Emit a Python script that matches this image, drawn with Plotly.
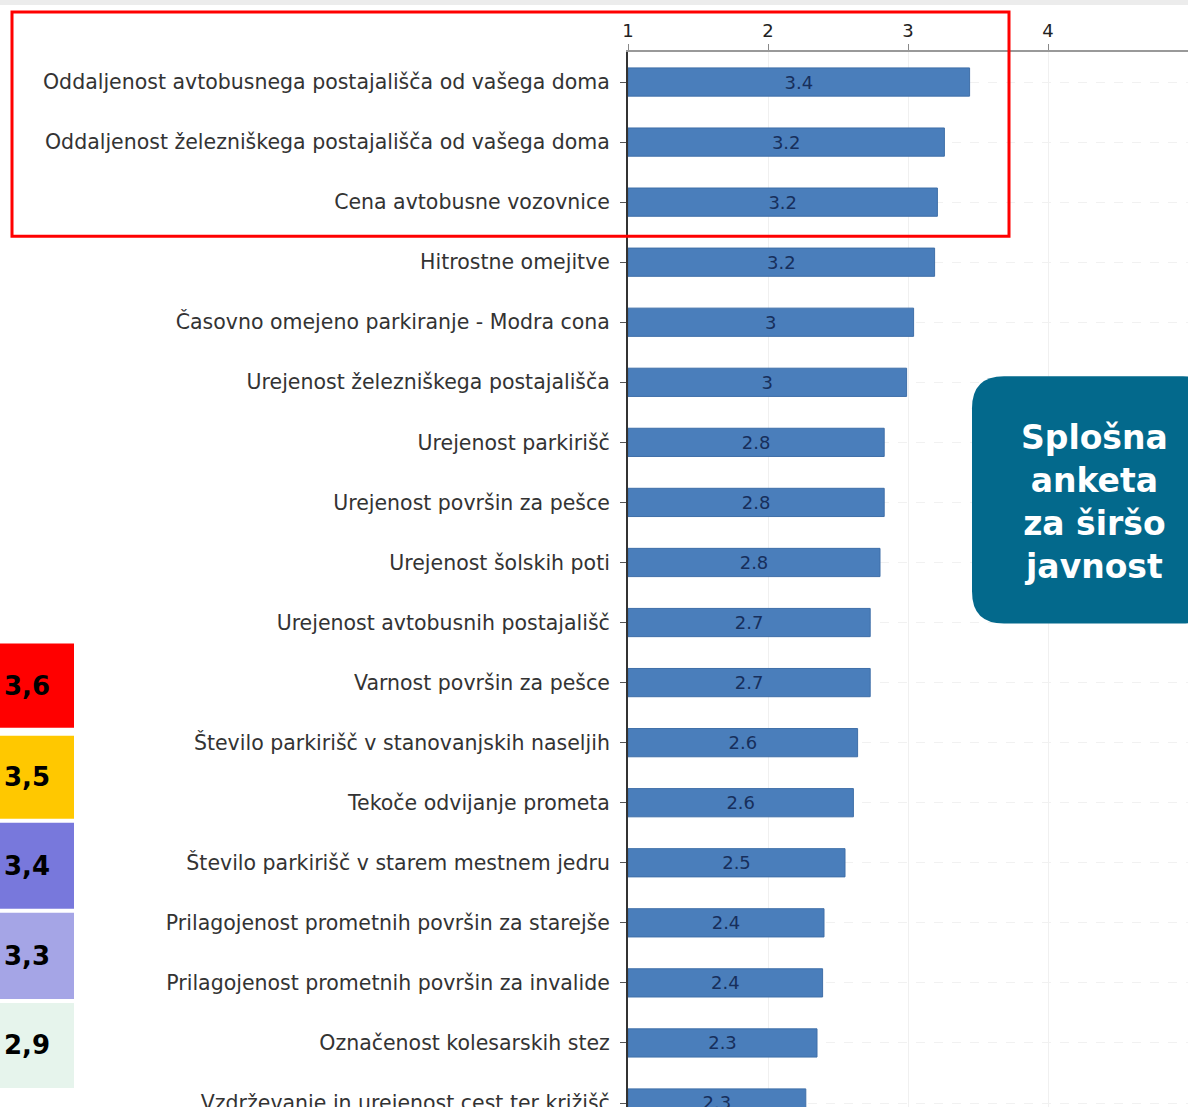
import plotly.graph_objects as go

categories = [
    "Oddaljenost avtobusnega postajališča od vašega doma",
    "Oddaljenost železniškega postajališča od vašega doma",
    "Cena avtobusne vozovnice",
    "Hitrostne omejitve",
    "Časovno omejeno parkiranje - Modra cona",
    "Urejenost železniškega postajališča",
    "Urejenost parkirišč",
    "Urejenost površin za pešce",
    "Urejenost šolskih poti",
    "Urejenost avtobusnih postajališč",
    "Varnost površin za pešce",
    "Število parkirišč v stanovanjskih naseljih",
    "Tekoče odvijanje prometa",
    "Število parkirišč v starem mestnem jedru",
    "Prilagojenost prometnih površin za starejše",
    "Prilagojenost prometnih površin za invalide",
    "Označenost kolesarskih stez",
    "Vzdrževanje in urejenost cest ter križišč",
]
values = [3.44, 3.26, 3.21, 3.19, 3.04, 2.99, 2.83, 2.83, 2.80, 2.73, 2.73,
          2.64, 2.61, 2.55, 2.40, 2.39, 2.35, 2.27]
value_labels = ["3.4", "3.2", "3.2", "3.2", "3", "3", "2.8", "2.8", "2.8", "2.7",
                "2.7", "2.6", "2.6", "2.5", "2.4", "2.4", "2.3", "2.3"]
scale_ticks = [1, 2, 3, 4, 5]
scale_min = 1

legend_values = ["3,6", "3,5", "3,4", "3,3", "2,9"]
legend_colors = ["#ff0000", "#ffc800", "#7878dc", "#a5a5e6", "#e6f4ec"]
legend_boxes_px = [(643, 727), (735, 818), (822, 908), (912, 998), (1002, 1087)]

REF_H = 1107
W_FIG, H_FIG = 1188, 1115
SY = H_FIG / REF_H            # reference y pixel -> figure y pixel
L, T = 628, 52 * SY
PW, PH = W_FIG - L, H_FIG - T


def px(x):
    return (x - L) / PW


def py(y):
    return (H_FIG - y * SY) / PH


fig = go.Figure()
fig.add_trace(go.Bar(
    y=categories,
    x=[v - scale_min for v in values],
    base=scale_min,
    orientation="h",
    width=0.47,
    marker=dict(color="#4a7ebb", line=dict(color="#3f6fa8", width=1)),
    text=value_labels,
    textposition="inside",
    insidetextanchor="middle",
    textfont=dict(family="DejaVu Sans", size=18, color="#172f5c"),
    hoverinfo="x+y",
))

shapes = []
shapes.append(dict(type="rect", xref="paper", yref="paper",
                   x0=px(0), x1=px(W_FIG), y0=py(5), y1=py(0),
                   fillcolor="#ececec", line=dict(width=0), layer="below"))
annotations = []
for (y0, y1), col, lab in zip(legend_boxes_px, legend_colors, legend_values):
    shapes.append(dict(type="rect", xref="paper", yref="paper",
                       x0=px(0), x1=px(74), y0=py(y1), y1=py(y0),
                       fillcolor=col, line=dict(width=0)))
    annotations.append(dict(xref="paper", yref="paper", x=px(2), y=py((y0 + y1) / 2),
                            text="<b>%s</b>" % lab, showarrow=False,
                            xanchor="left", yanchor="middle",
                            font=dict(family="DejaVu Sans", size=26, color="#000000")))

shapes.append(dict(type="rect", xref="paper", yref="paper",
                   x0=px(12), x1=px(1009), y0=py(236), y1=py(12),
                   line=dict(color="#ff0000", width=3)))

bx0, bx1, by0, by1, r = 972, 1215, 376, 623, 32
path = (f"M {px(bx0 + r)},{py(by0)} L {px(bx1 - r)},{py(by0)} "
        f"Q {px(bx1)},{py(by0)} {px(bx1)},{py(by0 + r)} "
        f"L {px(bx1)},{py(by1 - r)} Q {px(bx1)},{py(by1)} {px(bx1 - r)},{py(by1)} "
        f"L {px(bx0 + r)},{py(by1)} Q {px(bx0)},{py(by1)} {px(bx0)},{py(by1 - r)} "
        f"L {px(bx0)},{py(by0 + r)} Q {px(bx0)},{py(by0)} {px(bx0 + r)},{py(by0)} Z")
shapes.append(dict(type="path", xref="paper", yref="paper", path=path,
                   fillcolor="#03698c", line=dict(width=0)))
annotations.append(dict(xref="paper", yref="paper", x=px(1094), y=py(502),
                        text="<b>Splošna<br>anketa<br>za širšo<br>javnost</b>",
                        showarrow=False, xanchor="center", yanchor="middle", align="center",
                        font=dict(family="DejaVu Sans", size=33, color="#ffffff")))

fig.update_layout(
    width=W_FIG, height=H_FIG,
    margin=dict(l=L, r=0, t=T, b=0, pad=0),
    paper_bgcolor="#ffffff", plot_bgcolor="#ffffff",
    showlegend=False,
    shapes=shapes,
    annotations=annotations,
    xaxis=dict(
        side="top", range=[1, 5], tickvals=scale_ticks,
        ticktext=[str(t) for t in scale_ticks],
        ticks="outside", ticklen=6, tickcolor="#888888",
        showline=True, linecolor="#999999", linewidth=2,
        showgrid=True, gridcolor="#f0f0f0", gridwidth=1,
        zeroline=False,
        tickfont=dict(family="DejaVu Sans", size=18, color="#222222"),
    ),
    yaxis=dict(
        type="category", categoryorder="array", categoryarray=categories,
        range=[(REF_H - 82) / 60.0, -0.5],
        ticks="outside", ticklen=6, tickcolor="#555555",
        ticklabelstandoff=6,
        showline=True, linecolor="#333333", linewidth=2,
        showgrid=True, gridcolor="#f1f1f1", griddash="dash",
        tickfont=dict(family="DejaVu Sans", size=20.5, color="#333333"),
    ),
)

post = ("var d=document.getElementById('{plot_id}');"
        "d.style.position='fixed';d.style.left='0px';d.style.top='0px';"
        "document.body.style.margin='0px';document.body.style.overflow='hidden';")
fig.write_html("out.html", config={"displayModeBar": False}, post_script=post)
